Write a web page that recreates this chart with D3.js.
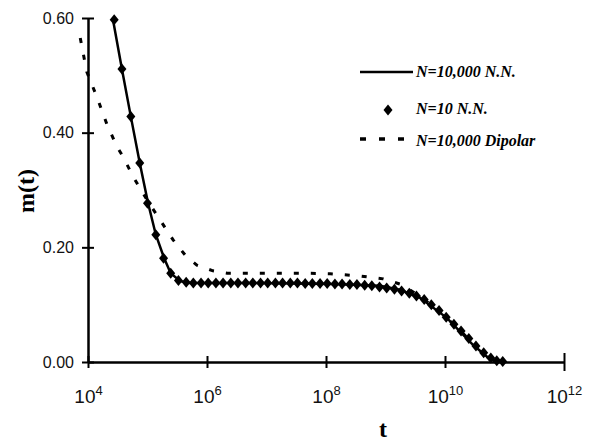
<!DOCTYPE html>
<html>
<head>
<meta charset="utf-8">
<script src="https://cdn.jsdelivr.net/npm/d3@7"></script>
<style>
  body { margin: 0; background: #fff; }
  svg { display: block; }
</style>
</head>
<body>
<div id="chart"></div>
<script>
// N=10,000 N.N. (solid line), log10(t) and m(t)
const nnLogT = [4.42, 4.57, 4.72, 4.87, 5.01, 5.14, 5.28, 5.39, 5.55, 5.71, 6.72, 8.07, 8.91, 9.24, 9.58, 10.03, 10.47, 10.71, 10.84];
const nnM    = [0.597, 0.511, 0.428, 0.347, 0.277, 0.222, 0.181, 0.155, 0.141, 0.138, 0.138, 0.136, 0.133, 0.126, 0.112, 0.077, 0.030, 0.009, 0.002];

// N=10 N.N. (diamonds)
const smallLogT = [4.44, 4.57, 4.72, 4.87, 5.00, 5.14, 5.27, 5.39, 5.52, 5.65, 5.77, 5.90, 6.02, 6.15, 6.27, 6.40,
  6.52, 6.65, 6.77, 6.90, 7.02, 7.15, 7.27, 7.40, 7.52, 7.65, 7.77, 7.90, 8.02, 8.15, 8.27, 8.40, 8.52, 8.65,
  8.77, 8.90, 9.02, 9.15, 9.27, 9.40, 9.52, 9.65, 9.77, 9.90, 10.02, 10.15, 10.27, 10.40, 10.52, 10.65, 10.77, 10.87, 10.97];
const smallM = [0.597, 0.511, 0.428, 0.347, 0.277, 0.222, 0.181, 0.155, 0.142, 0.139, 0.138, 0.138, 0.138, 0.138, 0.138, 0.138,
  0.138, 0.138, 0.138, 0.138, 0.138, 0.138, 0.138, 0.138, 0.138, 0.137, 0.137, 0.137, 0.137, 0.136, 0.136, 0.135, 0.135, 0.134,
  0.133, 0.131, 0.129, 0.127, 0.124, 0.120, 0.115, 0.109, 0.100, 0.090, 0.078, 0.066, 0.054, 0.041, 0.028, 0.016, 0.007, 0.002, 0.001];

// N=10,000 Dipolar (dashed)
const dipLogT = [3.87, 3.98, 4.15, 4.32, 4.49, 4.59, 4.76, 4.99, 5.21, 5.43, 5.66, 5.83, 6.10, 6.34, 6.89, 7.56, 8.07, 8.57, 8.96, 9.24, 9.58, 9.92, 10.25, 10.50, 10.71, 10.81];
const dipM    = [0.565, 0.506, 0.462, 0.414, 0.375, 0.358, 0.323, 0.283, 0.248, 0.213, 0.183, 0.169, 0.159, 0.155, 0.155, 0.155, 0.154, 0.150, 0.145, 0.136, 0.115, 0.087, 0.056, 0.028, 0.009, 0.002];

const xTicks = [1e4, 1e6, 1e8, 1e10, 1e12];
const yTicks = [0, 0.2, 0.4, 0.6];
const legendLabels = ["N=10,000 N.N.", "N=10 N.N.", "N=10,000 Dipolar"];

const w = 601, h = 443;
const svg = d3.select("#chart").append("svg").attr("width", w).attr("height", h);

const x = d3.scaleLog().domain([1e4, 1e12]).range([88, 564]);
const y = d3.scaleLinear().domain([0, 0.6]).range([362, 18]);

const pts = (lt, m) => lt.map((v, i) => ({t: Math.pow(10, v), m: m[i]}));
const nn = pts(nnLogT, nnM), small = pts(smallLogT, smallM), dip = pts(dipLogT, dipM);

const line = d3.line().x(d => x(d.t)).y(d => y(d.m));

// y axis
const yAxis = svg.append("g")
  .attr("transform", "translate(88,0)")
  .call(d3.axisLeft(y).tickValues(yTicks).tickSize(0).tickPadding(14).tickFormat(d3.format(".2f")));
yAxis.select(".domain").attr("stroke", "#000").attr("stroke-width", 2.5);
yAxis.selectAll(".tick line").remove();
yAxis.selectAll(".tick").append("line").attr("x1", -6).attr("x2", 6).attr("stroke", "#000").attr("stroke-width", 2);
yAxis.selectAll(".tick text").attr("font-family", "Liberation Sans, Arial, sans-serif").attr("font-size", 16).attr("fill", "#111");

// x axis
const xAxis = svg.append("g")
  .attr("transform", "translate(0,362)")
  .call(d3.axisBottom(x).tickValues(xTicks).tickSize(0).tickFormat(""));
xAxis.select(".domain").attr("stroke", "#000").attr("stroke-width", 2.5);
xAxis.selectAll(".tick line").remove();
xAxis.selectAll(".tick").append("line")
  .attr("y1", (d, i) => i === xTicks.length - 1 ? -9 : -6)
  .attr("y2", (d, i) => i === xTicks.length - 1 ? 9 : 6)
  .attr("stroke", "#000").attr("stroke-width", 2);
const xl = xAxis.selectAll(".tick").append("text")
  .attr("y", 41).attr("text-anchor", "middle")
  .attr("font-family", "Liberation Sans, Arial, sans-serif").attr("fill", "#111");
xl.append("tspan").attr("font-size", 19).text("10");
xl.append("tspan").attr("font-size", 13).attr("dy", -8).text(d => Math.round(Math.log10(d)));

// axis titles
svg.append("text").attr("x", 383).attr("y", 437).attr("text-anchor", "middle")
  .attr("font-family", "Liberation Serif, Times New Roman, serif").attr("font-weight", "bold").attr("font-size", 24).text("t");
svg.append("text").attr("transform", "translate(34,191) rotate(-90)").attr("text-anchor", "middle")
  .attr("font-family", "Liberation Serif, Times New Roman, serif").attr("font-weight", "bold").attr("font-size", 24).text("m(t)");

// series
svg.append("path").datum(dip).attr("d", line).attr("fill", "none")
  .attr("stroke", "#000").attr("stroke-width", 3).attr("stroke-dasharray", "5,12");
svg.append("path").datum(nn).attr("d", line).attr("fill", "none")
  .attr("stroke", "#000").attr("stroke-width", 2.5);

const diamond = "M0,-5.5L4.5,0L0,5.5L-4.5,0Z";
svg.append("g").selectAll("path").data(small).enter().append("path")
  .attr("d", diamond)
  .attr("transform", d => "translate(" + x(d.t) + "," + y(d.m) + ")")
  .attr("fill", "#000");

// legend
const lg = svg.append("g").attr("font-family", "Liberation Serif, Times New Roman, serif")
  .attr("font-weight", "bold").attr("font-style", "italic").attr("font-size", 16);
lg.append("line").attr("x1", 360).attr("x2", 413).attr("y1", 72).attr("y2", 72).attr("stroke", "#000").attr("stroke-width", 2.5);
lg.append("path").attr("d", diamond).attr("transform", "translate(388,110)").attr("fill", "#000");
lg.append("line").attr("x1", 360).attr("x2", 410).attr("y1", 139).attr("y2", 139)
  .attr("stroke", "#000").attr("stroke-width", 3.5).attr("stroke-dasharray", "6,13");
lg.selectAll("text.lab").data(legendLabels).enter().append("text")
  .attr("class", "lab").attr("x", 416).attr("y", (d, i) => [77, 114, 146][i]).text(d => d);
</script>
</body>
</html>
